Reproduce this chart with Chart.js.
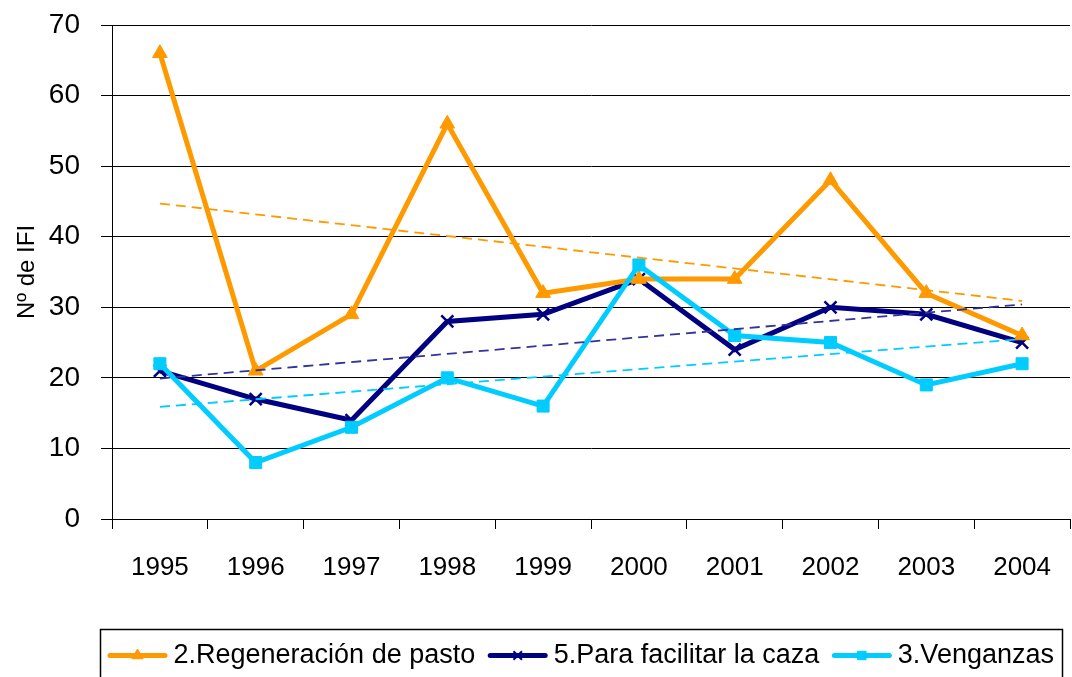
<!DOCTYPE html>
<html><head><meta charset="utf-8">
<script src="https://cdn.jsdelivr.net/npm/chart.js@4/dist/chart.umd.min.js"></script>
<style>html,body{margin:0;padding:0;background:#fff}#wrap{width:1072px;height:677px;position:relative}</style>
</head><body><div id="wrap"><canvas id="c" width="1072" height="677"></canvas></div>
<script>
const years = ['1995','1996','1997','1998','1999','2000','2001','2002','2003','2004'];
const seriesNames = ['2.Regeneración de pasto','5.Para facilitar la caza','3.Venganzas'];
const regeneracion = [66,21,29,56,32,34,34,48,32,26];
const caza = [21,17,14,28,29,34,24,30,29,25];
const venganzas = [22,8,13,20,16,36,26,25,19,22];
// linear trend lines: only the end points (straight line between)
const trendRegeneracion = [44.7,null,null,null,null,null,null,null,null,30.9];
const trendCaza = [19.9,null,null,null,null,null,null,null,null,30.4];
const trendVenganzas = [15.9,null,null,null,null,null,null,null,null,25.5];
const yMin = 0, yMax = 70, yStep = 10;
const yTitle = 'Nº de IFI';

const ORANGE = '#FF9900', NAVY = '#000080', CYAN = '#00CCFF';

function hasFont(f){
  const c = document.createElement('canvas').getContext('2d');
  c.font = '30px monospace'; const a = c.measureText('1995abcWxyz').width;
  c.font = '30px "' + f + '", monospace'; const b = c.measureText('1995abcWxyz').width;
  return a !== b;
}
const narrow = hasFont('Liberation Sans Narrow');
const xFont = narrow ? {family:"'Liberation Sans Narrow', 'Liberation Sans', Arial, sans-serif", size:30}
                     : {family:"'Liberation Sans', Arial, sans-serif", size:26};
const BASE = "'Liberation Sans', Arial, sans-serif";

const legendMarkers = [
  {style:'triangle', color:ORANGE, r:6.5, bw:1},
  {style:'crossRot', color:NAVY, r:6, bw:2},
  {style:'rect', color:CYAN, r:6, bw:1}
];

const legendFrame = {
  id:'legendFrame',
  afterLayout(chart){
    const lg = chart.legend;
    const h = lg.height;
    lg.left = 95; lg.right = 1072; lg.width = lg.right - lg.left;
    lg.top = 629; lg.bottom = lg.top + h;
  },
  afterDraw(chart){
    const lg = chart.legend, ctx = chart.ctx;
    const hb = lg.legendHitBoxes, items = lg.legendItems;
    if (!hb || !hb.length) return;
    ctx.save();
    const L = hb[0].left - 8, R = hb[hb.length-1].left + hb[hb.length-1].width + 8;
    ctx.strokeStyle = '#000'; ctx.lineWidth = 1.5;
    ctx.strokeRect(Math.round(L)+0.5, 629.5, Math.round(R-L), 80);
    hb.forEach((b,i)=>{
      const m = legendMarkers[items[i].datasetIndex];
      const y = b.top + b.height/2;
      ctx.strokeStyle = m.color; ctx.lineWidth = 5; ctx.lineCap = 'round';
      ctx.beginPath(); ctx.moveTo(b.left+2, y); ctx.lineTo(b.left+57, y); ctx.stroke();
      ctx.lineCap = 'butt';
      ctx.fillStyle = m.color; ctx.strokeStyle = m.color; ctx.lineWidth = m.bw;
      Chart.helpers.drawPoint(ctx, {pointStyle:m.style, radius:m.r, borderWidth:m.bw, rotation:0}, b.left+29.5, y);
    });
    ctx.restore();
  }
};

new Chart(document.getElementById('c'), {
  type:'line',
  data:{
    labels: years,
    datasets:[
      {label:seriesNames[0], data:regeneracion, borderColor:ORANGE, backgroundColor:ORANGE, borderWidth:5,
       pointStyle:'triangle', pointRadius:8.5, pointBackgroundColor:ORANGE, pointBorderColor:ORANGE, pointBorderWidth:1, order:2, tension:0},
      {label:seriesNames[1], data:caza, borderColor:NAVY, backgroundColor:NAVY, borderWidth:5,
       pointStyle:'crossRot', pointRadius:8.5, pointBorderColor:NAVY, pointBorderWidth:2.5, order:3, tension:0},
      {label:seriesNames[2], data:venganzas, borderColor:CYAN, backgroundColor:CYAN, borderWidth:5,
       pointStyle:'rect', pointRadius:8.5, pointBackgroundColor:CYAN, pointBorderColor:CYAN, pointBorderWidth:1, order:1, tension:0},
      {label:'trend1', data:trendRegeneracion, borderColor:ORANGE, borderWidth:1.8, borderDash:[10,6], pointRadius:0, spanGaps:true, order:0},
      {label:'trend2', data:trendCaza, borderColor:'#333399', borderWidth:1.8, borderDash:[10,6], pointRadius:0, spanGaps:true, order:0},
      {label:'trend3', data:trendVenganzas, borderColor:CYAN, borderWidth:1.8, borderDash:[10,6], pointRadius:0, spanGaps:true, order:0}
    ]
  },
  options:{
    responsive:false, animation:false, devicePixelRatio:1,
    layout:{autoPadding:false, padding:{left:0, right:2, top:25, bottom:43}},
    plugins:{
      tooltip:{enabled:false},
      legend:{
        position:'bottom', align:'start',
        labels:{
          font:{family:BASE, size:27}, color:'#000', boxWidth:52, boxHeight:6, padding:13,
          generateLabels(chart){
            const items = Chart.defaults.plugins.legend.labels.generateLabels(chart);
            return items.filter(i=>i.datasetIndex<3)
              .sort((a,b)=>a.datasetIndex-b.datasetIndex)
              .map(i=>Object.assign(i,{fillStyle:'rgba(0,0,0,0)', strokeStyle:'rgba(0,0,0,0)', lineWidth:0}));
          }
        }
      }
    },
    scales:{
      x:{
        type:'category', offset:true,
        grid:{offset:true, drawOnChartArea:false, drawTicks:true, tickLength:10, color:'#000', lineWidth:1},
        border:{display:true, color:'#000', width:1},
        ticks:{font:xFont, color:'#000', padding:23, maxRotation:0, autoSkip:false},
        afterFit(s){ s.height = 65; s.paddingLeft = 0; s.paddingRight = 0; }
      },
      y:{
        min:yMin, max:yMax,
        ticks:{stepSize:yStep, font:{family:BASE, size:28}, color:'#000', padding:21},
        grid:{color:'#000', lineWidth:1, drawTicks:true, tickLength:11},
        border:{display:true, color:'#000', width:1},
        title:{display:true, text:yTitle, font:{family:BASE, size:24}, color:'#000', padding:{top:13, bottom:0}},
        afterFit(s){ s.width = 112; s.paddingTop = 0; s.paddingBottom = 0; }
      }
    }
  },
  plugins:[legendFrame]
});
</script>
</body></html>
